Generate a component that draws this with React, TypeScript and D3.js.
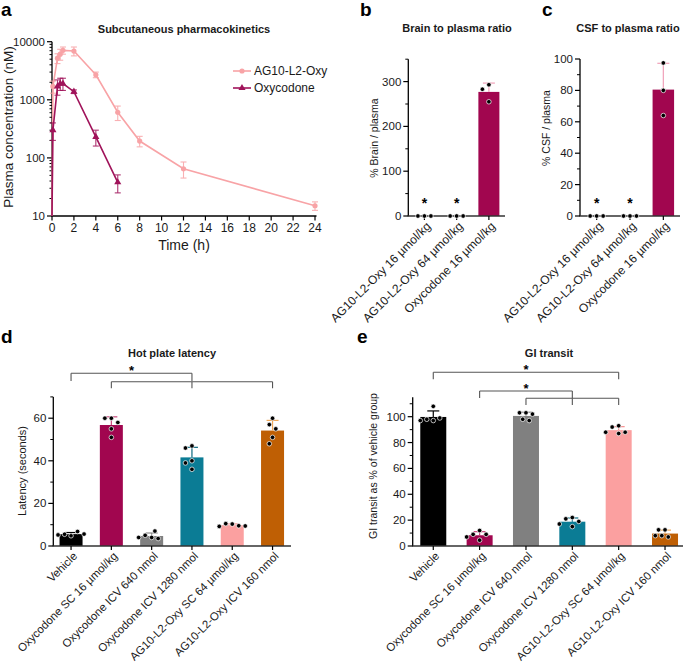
import React from 'react';
import * as d3 from 'd3';

const FONT = '"Liberation Sans", Arial, Helvetica, sans-serif';
const TXT = '#1a1a1a';

// ---------- Panel a: subcutaneous pharmacokinetics ----------
const pkSeriesNames = ['AG10-L2-Oxy', 'Oxycodone'];
const ag10Times = [0, 0.083, 0.5, 0.75, 1, 2, 4, 6, 8, 12, 24];
const ag10Mean = [0, 1700, 5200, 6100, 7100, 6900, 2700, 610, 195, 65, 15];
const ag10Sd = [0, 400, 1000, 1300, 1000, 1200, 300, 170, 40, 20, 2.5];
const oxyTimes = [0, 0.083, 0.5, 0.75, 1, 2, 4, 6];
const oxyMean = [0, 300, 1700, 1900, 1900, 1380, 230, 38];
const oxySd = [0, 100, 500, 450, 450, 100, 70, 13];
const pkXTicks = [0, 2, 4, 6, 8, 10, 12, 14, 16, 18, 20, 22, 24];
const pkYTicks = [10, 100, 1000, 10000];

// ---------- Panels b, c: brain / CSF to plasma ratio ----------
const ratioCategories = ['AG10-L2-Oxy 16 µmol/kg', 'AG10-L2-Oxy 64 µmol/kg', 'Oxycodone 16 µmol/kg'];
const brainRatioDots = [[0, 0, 0], [0, 0, 0], [293, 283, 255]];
const csfRatioDots = [[0, 0, 0], [0, 0, 0], [97.5, 80, 64]];
const ratioSignificant = [true, true, false];
const brainTicks = [0, 100, 200, 300];
const csfTicks = [0, 20, 40, 60, 80, 100];

// ---------- Panels d, e: hot plate, GI transit ----------
const treatmentCategories = [
  'Vehicle',
  'Oxycodone SC 16 µmol/kg',
  'Oxycodone ICV 640 nmol',
  'Oxycodone ICV 1280 nmol',
  'AG10-L2-Oxy SC 64 µmol/kg',
  'AG10-L2-Oxy ICV 160 nmol',
];
const hotPlateDots = [
  [4.8, 5.5, 6.8, 5.2, 5.6],
  [60, 60, 58, 55, 51],
  [4, 5, 7, 3.5, 4],
  [47, 46, 40, 39, 36],
  [10.3, 10.5, 9.5, 9.2, 9.4],
  [60, 57, 55, 51, 48],
];
const giDots = [
  [108, 97, 98, 99, 97],
  [12, 9, 9, 7, 4.5],
  [103, 103, 102, 98, 97],
  [22, 21, 19, 17, 15],
  [93, 92, 87, 88, 88],
  [12.5, 12.5, 8, 7, 8],
];
const hotPlateTicks = [0, 20, 40, 60];
const giTicks = [0, 20, 40, 60, 80, 100];
const hotPlateBrackets = [
  { cats: [0, 3], star: true },
  { cats: [1, 3, 5], star: false },
];
const giBrackets = [
  { cats: [0, 4], star: true },
  { cats: [1, 3], star: true },
  { cats: [2, 3, 4], star: false },
];

// ---------- styles ----------
const treatmentColors = ['#000000', '#A1064F', '#808080', '#0B7C95', '#FBA0A0', '#BF5F04'];
const treatmentErrColors = ['#000000', '#C8457A', '#8A8A8A', '#0B6A80', '#F58F8F', '#F0A858'];
const ratioColors = ['#A1064F', '#A1064F', '#A1064F'];
const ratioErrColors = ['#F0A0B8', '#F0A0B8', '#F0A0B8'];
const pkColors = ['#F8A3A6', '#A0135A'];

function swarm(vals: number[], py: (v: number) => number, d: number): number[] {
  const placed: { x: number; y: number }[] = [];
  return vals.map((v) => {
    const y = py(v);
    const s = d / 2;
    let chosen = 0;
    for (let k = 0; k < 40; k++) {
      const off = k === 0 ? 0 : (k % 2 === 1 ? -1 : 1) * Math.ceil(k / 2) * s;
      if (placed.every((p) => Math.hypot(p.x - off, p.y - y) >= d - 0.01)) {
        chosen = off;
        break;
      }
    }
    placed.push({ x: chosen, y });
    return chosen;
  });
}

function PanelA() {
  const x = d3.scaleLinear().domain([0, 24]).range([52, 315]);
  const y = d3.scaleLog().domain([10, 10000]).range([216, 41.7]);
  const yy = (v: number) => (v > 0 ? y(v) : y(10));
  const series = [
    { name: pkSeriesNames[0], t: ag10Times, m: ag10Mean, s: ag10Sd, color: pkColors[0], marker: 'circle' },
    { name: pkSeriesNames[1], t: oxyTimes, m: oxyMean, s: oxySd, color: pkColors[1], marker: 'triangle' },
  ];
  const minor: number[] = [];
  [10, 100, 1000].forEach((dec) => {
    for (let k = 2; k <= 9; k++) minor.push(dec * k);
  });
  const tri = d3.symbol(d3.symbolTriangle, 22)() as string;
  const marker = (kind: string, color: string, cx: number, cy: number, key: string) =>
    kind === 'circle' ? (
      <circle key={key} cx={cx} cy={cy} r={2.6} fill={color} />
    ) : (
      <path key={key} d={tri} transform={`translate(${cx},${cy})`} fill={color} />
    );
  return (
    <g>
      <text x={1} y={16} fontSize={19} fontWeight="bold" fill="#000">a</text>
      <text x={184} y={33} fontSize={11} fontWeight="bold" textAnchor="middle" fill={TXT}>
        Subcutaneous pharmacokinetics
      </text>
      <text transform="translate(12.5,127) rotate(-90)" fontSize={13.5} textAnchor="middle" fill={TXT}>
        Plasma concentration (nM)
      </text>
      <text x={184} y={250} fontSize={14} textAnchor="middle" fill={TXT}>Time (h)</text>
      {/* axes */}
      <line x1={52} x2={52} y1={216} y2={41.7} stroke="#000" strokeWidth={1.3} />
      <line x1={51.4} x2={316.5} y1={216} y2={216} stroke="#000" strokeWidth={1.3} />
      {pkYTicks.map((t) => (
        <g key={'yt' + t}>
          <line x1={47} x2={52} y1={y(t)} y2={y(t)} stroke="#000" strokeWidth={1.2} />
          <text x={45} y={y(t)} dy="0.35em" fontSize={11.5} textAnchor="end" fill={TXT}>{t}</text>
        </g>
      ))}
      {minor.map((t) => (
        <line key={'ym' + t} x1={49.5} x2={52} y1={y(t)} y2={y(t)} stroke="#000" strokeWidth={1} />
      ))}
      {pkXTicks.map((t) => (
        <g key={'xt' + t}>
          <line x1={x(t)} x2={x(t)} y1={216} y2={220.5} stroke="#000" strokeWidth={1.2} />
          <text x={x(t)} y={231.5} fontSize={12} textAnchor="middle" fill={TXT}>{t}</text>
        </g>
      ))}
      {series.map((sr) => {
        const pts = sr.t.map((t, i) => [t, sr.m[i]] as [number, number]);
        const line = d3.line<[number, number]>().x((d) => x(d[0])).y((d) => yy(d[1]));
        return (
          <g key={sr.name}>
            <path d={line(pts) || ''} fill="none" stroke={sr.color} strokeWidth={1.6} />
            {pts.map((p, i) =>
              p[1] > 0 ? (
                <g key={i} stroke={sr.color} strokeWidth={1.1} opacity={0.85}>
                  <line x1={x(p[0])} x2={x(p[0])} y1={yy(p[1] - sr.s[i])} y2={yy(p[1] + sr.s[i])} />
                  <line x1={x(p[0]) - 3} x2={x(p[0]) + 3} y1={yy(p[1] - sr.s[i])} y2={yy(p[1] - sr.s[i])} />
                  <line x1={x(p[0]) - 3} x2={x(p[0]) + 3} y1={yy(p[1] + sr.s[i])} y2={yy(p[1] + sr.s[i])} />
                </g>
              ) : null
            )}
            {pts.map((p, i) => (p[1] > 0 ? marker(sr.marker, sr.color, x(p[0]), yy(p[1]), 'm' + i) : null))}
          </g>
        );
      })}
      {/* legend */}
      {series.map((sr, i) => {
        const ly = 71 + i * 17;
        return (
          <g key={'lg' + i}>
            <line x1={233} x2={251} y1={ly} y2={ly} stroke={sr.color} strokeWidth={1.6} />
            {marker(sr.marker, sr.color, 242, ly, 'lm' + i)}
            <text x={254} y={ly} dy="0.36em" fontSize={12} fill={TXT}>{sr.name}</text>
          </g>
        );
      })}
    </g>
  );
}

type Bracket = { cats: number[]; star: boolean };

type BarPanelProps = {
  letter: string;
  letterX: number;
  letterY: number;
  title: string;
  titleX: number;
  titleY: number;
  yLabel: string;
  yLabelX: number;
  yLabelY: number;
  yLabelSize: number;
  cats: string[];
  catSize: number;
  groups: number[][];
  colors: string[];
  errColors: string[];
  centerRange: [number, number];
  axisX0: number;
  axisX1: number;
  yMax: number;
  y0: number;
  yTop: number;
  ticks: number[];
  minorStep: number;
  barW: number;
  stars?: boolean[];
  starY?: number;
  brackets?: Bracket[];
  bracketTops?: number[];
  bracketBottoms?: number[];
};

function BarPanel(p: BarPanelProps) {
  const x = d3.scalePoint<number>().domain(p.cats.map((_, i) => i)).range(p.centerRange).padding(0.5);
  const y = d3.scaleLinear().domain([0, p.yMax]).range([p.y0, p.yTop]);
  const minor = d3.range(0, p.yMax + 0.001, p.minorStep).filter((v) => !p.ticks.includes(v));
  return (
    <g>
      <text x={p.letterX} y={p.letterY} fontSize={19} fontWeight="bold" fill="#000">{p.letter}</text>
      <text x={p.titleX} y={p.titleY} fontSize={11} fontWeight="bold" textAnchor="middle" fill={TXT}>{p.title}</text>
      <text transform={`translate(${p.yLabelX},${p.yLabelY}) rotate(-90)`} fontSize={p.yLabelSize} textAnchor="middle" fill={TXT}>
        {p.yLabel}
      </text>
      {/* bars */}
      {p.groups.map((g, i) => {
        const m = d3.mean(g) as number;
        const sd = (d3.deviation(g) as number) || 0;
        const cx = x(i) as number;
        if (m <= 0) return null;
        return (
          <g key={'b' + i}>
            <rect x={cx - p.barW / 2} y={y(m)} width={p.barW} height={p.y0 - y(m)} fill={p.colors[i]} />
            <line x1={cx} x2={cx} y1={y(m)} y2={y(m + sd)} stroke={p.errColors[i]} strokeWidth={1.2} />
            <line x1={cx - 6} x2={cx + 6} y1={y(m + sd)} y2={y(m + sd)} stroke={p.errColors[i]} strokeWidth={1.2} />
          </g>
        );
      })}
      {/* axes */}
      <line x1={p.axisX0} x2={p.axisX0} y1={p.y0} y2={p.yTop} stroke="#000" strokeWidth={1.3} />
      <line x1={p.axisX0 - 0.6} x2={p.axisX1} y1={p.y0} y2={p.y0} stroke="#333" strokeWidth={1.5} />
      {p.ticks.map((t) => (
        <g key={'t' + t}>
          <line x1={p.axisX0 - 5} x2={p.axisX0} y1={y(t)} y2={y(t)} stroke="#000" strokeWidth={1.2} />
          <text x={p.axisX0 - 7} y={y(t)} dy="0.35em" fontSize={11.5} textAnchor="end" fill={TXT}>{t}</text>
        </g>
      ))}
      {minor.map((t) => (
        <line key={'m' + t} x1={p.axisX0 - 3} x2={p.axisX0} y1={y(t)} y2={y(t)} stroke="#000" strokeWidth={1} />
      ))}
      {p.cats.map((c, i) => {
        const cx = x(i) as number;
        return (
          <g key={'c' + i}>
            <line x1={cx} x2={cx} y1={p.y0} y2={p.y0 + 4} stroke="#000" strokeWidth={1.2} />
            <text transform={`translate(${cx + 4},${p.y0 + 8}) rotate(-45)`} dy="0.35em" fontSize={p.catSize} textAnchor="end" fill={TXT}>
              {c}
            </text>
          </g>
        );
      })}
      {/* dots */}
      {p.groups.map((g, i) => {
        const cx = x(i) as number;
        const offs = swarm(g, (v) => y(v), 6.5);
        return (
          <g key={'d' + i}>
            {g.map((v, j) => (
              <circle key={j} cx={cx + offs[j]} cy={y(v)} r={2.3} fill="#000" stroke="#fff" strokeWidth={0.7} />
            ))}
          </g>
        );
      })}
      {/* stars */}
      {p.stars &&
        p.stars.map((s, i) =>
          s ? (
            <text key={'s' + i} x={x(i) as number} y={p.starY} fontSize={14} fontWeight="bold" textAnchor="middle" fill="#000">*</text>
          ) : null
        )}
      {/* brackets */}
      {p.brackets &&
        p.brackets.map((b, k) => {
          const xs = b.cats.map((c) => x(c) as number);
          const top = p.bracketTops![k];
          const bot = p.bracketBottoms![k];
          const x0 = Math.min(...xs);
          const x1 = Math.max(...xs);
          return (
            <g key={'br' + k} stroke="#555" strokeWidth={1.1} fill="none">
              <line x1={x0} x2={x1} y1={top} y2={top} />
              {xs.map((xx, j) => (
                <line key={j} x1={xx} x2={xx} y1={top} y2={bot} />
              ))}
              {b.star ? (
                <text x={(x0 + x1) / 2} y={top + 1.5} fontSize={13} fontWeight="bold" textAnchor="middle" fill="#000" stroke="none">*</text>
              ) : null}
            </g>
          );
        })}
    </g>
  );
}

export default function App() {
  return (
    <svg width={685} height={666} style={{ position: 'absolute', left: 0, top: 0, background: '#fff' }} fontFamily={FONT}>
      <rect width={685} height={666} fill="#fff" />
      <PanelA />
      <BarPanel
        letter="b" letterX={360} letterY={16}
        title="Brain to plasma ratio" titleX={457} titleY={32}
        yLabel="% Brain / plasma" yLabelX={377.5} yLabelY={138} yLabelSize={10.5}
        cats={ratioCategories} catSize={12} groups={brainRatioDots} colors={ratioColors} errColors={ratioErrColors}
        centerRange={[408.3, 505]} axisX0={408.3} axisX1={505}
        yMax={350} y0={216} yTop={59.2} ticks={brainTicks} minorStep={50} barW={21}
        stars={ratioSignificant} starY={208}
      />
      <BarPanel
        letter="c" letterX={542} letterY={16}
        title="CSF to plasma ratio" titleX={628} titleY={32}
        yLabel="% CSF / plasma" yLabelX={550} yLabelY={128} yLabelSize={10.5}
        cats={ratioCategories} catSize={12} groups={csfRatioDots} colors={ratioColors} errColors={ratioErrColors}
        centerRange={[580, 680]} axisX0={580} axisX1={680}
        yMax={100} y0={216} yTop={59} ticks={csfTicks} minorStep={10} barW={21.5}
        stars={ratioSignificant} starY={208}
      />
      <BarPanel
        letter="d" letterX={1} letterY={343}
        title="Hot plate latency" titleX={172} titleY={357}
        yLabel="Latency (seconds)" yLabelX={25.5} yLabelY={471} yLabelSize={11}
        cats={treatmentCategories} catSize={11.4} groups={hotPlateDots} colors={treatmentColors} errColors={treatmentErrColors}
        centerRange={[50.9, 292.7]} axisX0={53.3} axisX1={291}
        yMax={70} y0={546} yTop={396.9} ticks={hotPlateTicks} minorStep={10} barW={23}
        brackets={hotPlateBrackets} bracketTops={[373.3, 381.7]} bracketBottoms={[381, 388.3]}
      />
      <BarPanel
        letter="e" letterX={357} letterY={343}
        title="GI transit" titleX={549} titleY={357}
        yLabel="GI transit as % of vehicle group" yLabelX={377} yLabelY={466} yLabelSize={10.5}
        cats={treatmentCategories} catSize={11.4} groups={giDots} colors={treatmentColors} errColors={treatmentErrColors}
        centerRange={[410.1, 688.2]} axisX0={412.7} axisX1={683}
        yMax={115} y0={546} yTop={397.3} ticks={giTicks} minorStep={10} barW={26}
        brackets={giBrackets} bracketTops={[372.3, 391, 398.3]} bracketBottoms={[379.3, 398, 405]}
      />
    </svg>
  );
}
